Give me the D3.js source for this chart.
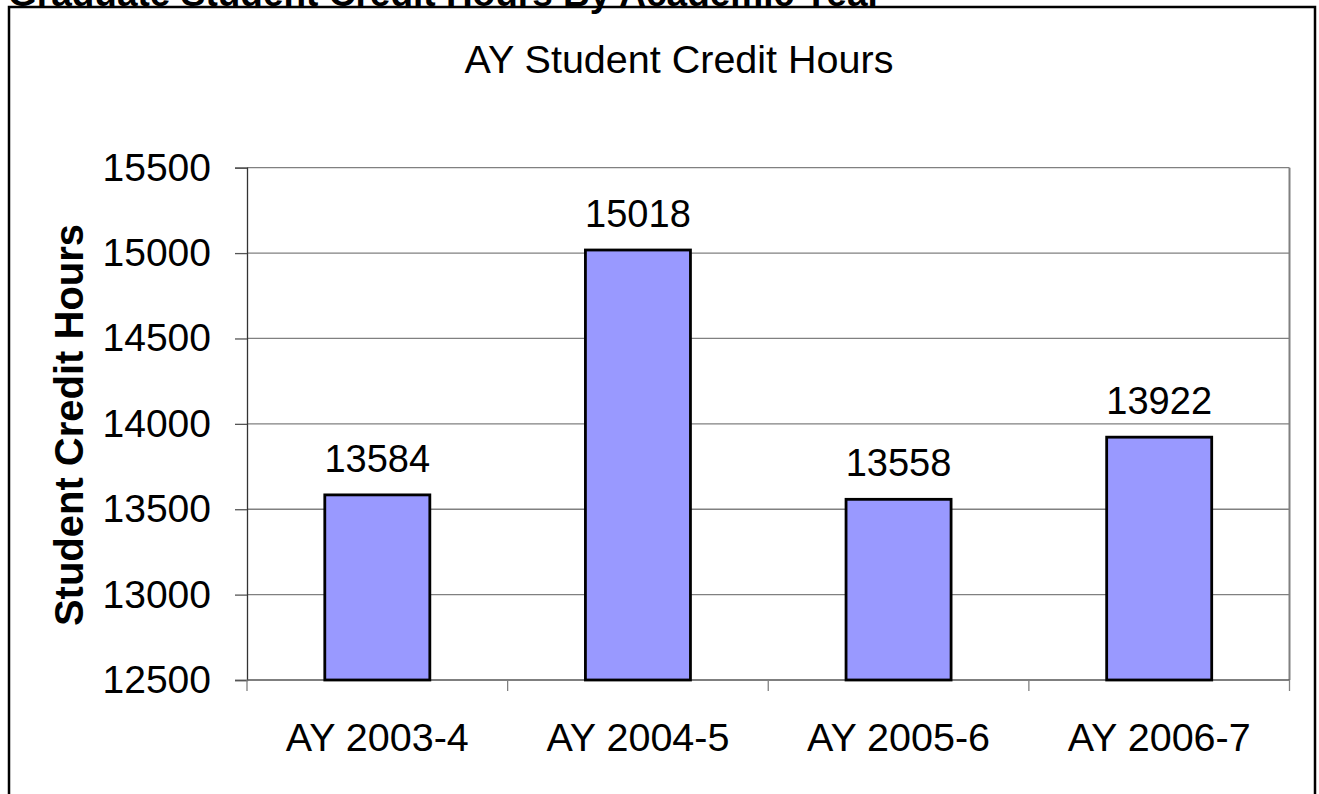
<!DOCTYPE html>
<html>
<head>
<meta charset="utf-8">
<script src="https://cdn.jsdelivr.net/npm/d3@7"></script>
<style>
  body { margin: 0; background: #fff; }
  svg { display: block; font-family: Arial, "Liberation Sans", sans-serif; }
</style>
</head>
<body>
<div id="chart"></div>
<script>
// Graduate student credit hours, one bar per academic year
var years = ["AY 2003-4", "AY 2004-5", "AY 2005-6", "AY 2006-7"];
var creditHours = [13584, 15018, 13558, 13922];
var yTicks = [12500, 13000, 13500, 14000, 14500, 15000, 15500];

var width = 1319, height = 794;
var plotLeft = 247, plotRight = 1289.5, plotTop = 167.7, plotBottom = 680;

var svg = d3.select("#chart").append("svg")
	.attr("width", width)
	.attr("height", height);

var xScale = d3.scaleBand()
	.domain(years)
	.range([plotLeft, plotRight])
	.paddingInner(0.597)
	.paddingOuter(0.2985);

var xTickScale = d3.scaleLinear()
	.domain([0, years.length])
	.range([plotLeft, plotRight]);

var yScale = d3.scaleLinear()
	.domain([12500, 15500])
	.range([plotBottom, plotTop]);

// outer frame (bottom edge runs off the page)
svg.append("rect")
	.attr("x", 9).attr("y", 7)
	.attr("width", 1306).attr("height", 820)
	.style("fill", "none")
	.style("stroke", "#000")
	.style("stroke-width", 2.5);

// page heading, cut off at top as in the source
svg.append("text")
	.attr("x", 8).attr("y", 5.5)
	.style("font-size", "37px")
	.style("font-weight", 700)
	.text("Graduate Student Credit Hours By Academic Year");

svg.append("text")
	.attr("x", 679).attr("y", 73)
	.style("font-size", "39.5px")
	.style("text-anchor", "middle")
	.text("AY Student Credit Hours");

// gridlines
svg.selectAll(".grid")
	.data(yTicks.slice(1))
	.enter()
	.append("line")
		.attr("class", "grid")
		.attr("x1", plotLeft).attr("x2", plotRight)
		.attr("y1", function(d) { return yScale(d); })
		.attr("y2", function(d) { return yScale(d); })
		.style("stroke", "#808080")
		.style("stroke-width", 1.3);

// right edge of plot area
svg.append("line")
	.attr("x1", plotRight).attr("x2", plotRight)
	.attr("y1", plotTop).attr("y2", plotBottom)
	.style("stroke", "#808080")
	.style("stroke-width", 2);

// y axis
var yAxis = d3.axisLeft(yScale)
	.tickValues(yTicks)
	.tickSize(12)
	.tickPadding(24)
	.tickFormat(d3.format("d"));

var yG = svg.append("g")
	.attr("transform", "translate(" + plotLeft + ",0)")
	.call(yAxis);
yG.select(".domain").style("stroke", "#333").style("stroke-width", 1.3);
yG.selectAll(".tick line").style("stroke", "#555").style("stroke-width", 1.3);
yG.selectAll(".tick text")
	.style("font-size", "39px")
	.style("font-family", "Arial, 'Liberation Sans', sans-serif")
	.style("fill", "#000");

// x axis: ticks between categories
svg.append("line")
	.attr("x1", plotLeft).attr("x2", plotRight)
	.attr("y1", plotBottom).attr("y2", plotBottom)
	.style("stroke", "#555")
	.style("stroke-width", 1.5);

svg.selectAll(".xtick")
	.data(d3.range(years.length + 1))
	.enter()
	.append("line")
		.attr("class", "xtick")
		.attr("x1", function(d) { return xTickScale(d); })
		.attr("x2", function(d) { return xTickScale(d); })
		.attr("y1", plotBottom).attr("y2", plotBottom + 11)
		.style("stroke", "#808080")
		.style("stroke-width", 1.3);

svg.selectAll(".xlabel")
	.data(years)
	.enter()
	.append("text")
		.attr("class", "xlabel")
		.attr("x", function(d) { return xScale(d) + xScale.bandwidth() / 2; })
		.attr("y", 751)
		.style("font-size", "39.5px")
		.style("text-anchor", "middle")
		.text(function(d) { return d; });

// bars
svg.selectAll(".bar")
	.data(creditHours)
	.enter()
	.append("rect")
		.attr("class", "bar")
		.attr("x", function(d, i) { return xScale(years[i]); })
		.attr("y", function(d) { return yScale(d); })
		.attr("width", xScale.bandwidth())
		.attr("height", function(d) { return plotBottom - yScale(d); })
		.style("fill", "#9999FF")
		.style("stroke", "#000")
		.style("stroke-width", 2.8);

svg.selectAll(".barlabel")
	.data(creditHours)
	.enter()
	.append("text")
		.attr("class", "barlabel")
		.attr("x", function(d, i) { return xScale(years[i]) + xScale.bandwidth() / 2; })
		.attr("y", function(d) { return yScale(d) - 23; })
		.style("font-size", "38px")
		.style("text-anchor", "middle")
		.text(function(d) { return d; });

// y axis title
svg.append("text")
	.attr("transform", "translate(83,425) rotate(-90)")
	.style("font-size", "40px")
	.style("font-weight", 700)
	.style("text-anchor", "middle")
	.text("Student Credit Hours");
</script>
</body>
</html>
